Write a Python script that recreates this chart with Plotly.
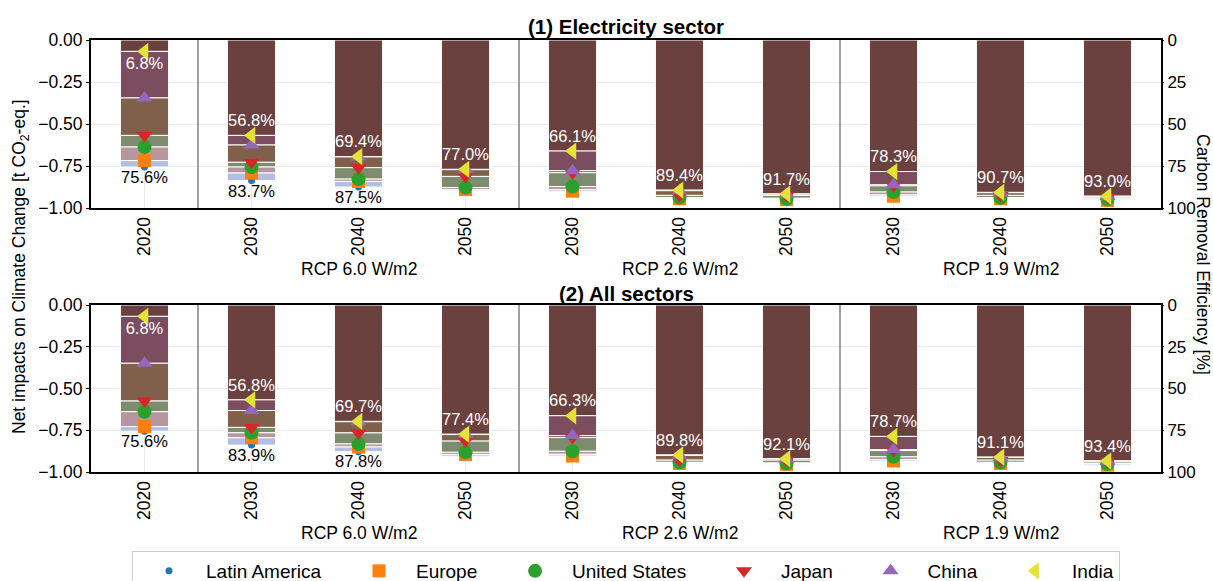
import plotly.graph_objects as go

# ---- categories -------------------------------------------------------------
years = ["2020", "2030", "2040", "2050", "2030", "2040", "2050", "2030", "2040", "2050"]
scenarios = ["RCP 6.0 W/m2", "RCP 2.6 W/m2", "RCP 1.9 W/m2"]
scenario_center = [2, 5, 8]          # category index under which each scenario name sits
group_breaks = [0.5, 3.5, 6.5]       # separators between scenario blocks
regions = ["Latin America", "Europe", "United States", "Japan", "China", "India"]

# ---- (1) Electricity sector: net impacts [t CO2-eq.] per region ----------------
elec_latin_america = [-0.756, -0.837, -0.875, -0.898, -0.890, -0.940, -0.942, -0.922, -0.938, -0.946]
elec_europe        = [-0.718, -0.792, -0.842, -0.890, -0.900, -0.945, -0.950, -0.930, -0.945, -0.955]
elec_united_states = [-0.637, -0.756, -0.828, -0.878, -0.872, -0.938, -0.945, -0.905, -0.940, -0.948]
elec_japan         = [-0.568, -0.728, -0.760, -0.812, -0.790, -0.925, -0.925, -0.868, -0.925, -0.936]
elec_china         = [-0.345, -0.625, -0.696, -0.772, -0.778, -0.897, -0.918, -0.862, -0.909, -0.931]
elec_india         = [-0.068, -0.568, -0.694, -0.770, -0.661, -0.894, -0.917, -0.783, -0.907, -0.930]

# ---- (2) All sectors ------------------------------------------------------------
all_latin_america = [-0.756, -0.839, -0.878, -0.905, -0.894, -0.944, -0.946, -0.926, -0.942, -0.950]
all_europe        = [-0.728, -0.795, -0.850, -0.895, -0.904, -0.949, -0.954, -0.934, -0.949, -0.959]
all_united_states = [-0.639, -0.765, -0.832, -0.882, -0.876, -0.942, -0.949, -0.909, -0.944, -0.952]
all_japan         = [-0.575, -0.733, -0.766, -0.815, -0.794, -0.929, -0.929, -0.872, -0.929, -0.940]
all_china         = [-0.349, -0.632, -0.699, -0.776, -0.782, -0.901, -0.922, -0.866, -0.913, -0.935]
all_india         = [-0.068, -0.568, -0.697, -0.774, -0.663, -0.898, -0.921, -0.787, -0.911, -0.934]

electricity = dict(zip(regions, [elec_latin_america, elec_europe, elec_united_states,
                                 elec_japan, elec_china, elec_india]))
all_sectors = dict(zip(regions, [all_latin_america, all_europe, all_united_states,
                                 all_japan, all_china, all_india]))

# ---- styles -----------------------------------------------------------------------
FONT = "Liberation Sans, Arial, sans-serif"
marker_style = {
    "Latin America": dict(color="#1f77b4", symbol="circle", size=7),
    "Europe":        dict(color="#ff7f0e", symbol="square", size=13),
    "United States": dict(color="#2ca02c", symbol="circle", size=14),
    "Japan":         dict(color="#d62728", symbol="triangle-down", size=14),
    "China":         dict(color="#9467bd", symbol="triangle-up", size=14),
    "India":         dict(color="#e3e336", symbol="triangle-left", size=15),
}
# band colour by how many regional bars overlap (6 -> 1)
band_colors = ["#6a413f", "#7b4d5f", "#80604b", "#7d8b6e", "#b7979d", "#b4bde2"]
LEGEND_PAD = "\u00a0" * 3   # extra room between legend entries

W, H = 1213, 581
x_dom = [91 / W, 1161 / W]
top_dom = [1 - 208 / H, 1 - 40 / H]
bot_dom = [1 - 472 / H, 1 - 305 / H]

X = list(range(len(years)))
fig = go.Figure()
annotations = []


def add_panel(data, xa, ya, ya_right, show_legend):
    # overlapping regional bars shown as bands, darker where more regions overlap
    mags = [sorted(-data[r][i] for r in regions) for i in X]
    for k in range(len(regions)):
        prev = [m[k - 1] if k > 0 else 0.0 for m in mags]
        base = [-p for p in prev]
        length = [-(m[k] - p) for m, p in zip(mags, prev)]
        fig.add_trace(go.Bar(
            x=X, y=length, base=base, width=0.45,
            marker=dict(color=band_colors[k], line=dict(color="white", width=1)),
            xaxis=xa, yaxis=ya, showlegend=False, hoverinfo="skip"))
    for r in regions:
        st = marker_style[r]
        label = r if r == regions[-1] else r + LEGEND_PAD
        fig.add_trace(go.Scatter(
            x=X, y=data[r], mode="markers", name=label, legendgroup=r,
            showlegend=show_legend, xaxis=xa, yaxis=ya,
            marker=dict(color=st["color"], symbol=st["symbol"], size=st["size"],
                        line=dict(width=0))))

    # removal efficiency [%] on the right-hand axis: lowest above, highest below the bar
    eff_lo = [m[0] * 100 for m in mags]
    eff_hi = [m[-1] * 100 for m in mags]
    y_lo = [e + 8 if e < 15 else e - 8 for e in eff_lo]
    fig.add_trace(go.Scatter(
        x=X, y=y_lo, mode="text", text=[f"{e:.1f}%" for e in eff_lo],
        textfont=dict(size=16.5, color="white", family=FONT),
        xaxis=xa, yaxis=ya_right, showlegend=False, hoverinfo="skip"))
    hi_idx = [i for i in X if eff_hi[i] + 7 <= 95]
    fig.add_trace(go.Scatter(
        x=hi_idx, y=[eff_hi[i] + 7 for i in hi_idx], mode="text",
        text=[f"{eff_hi[i]:.1f}%" for i in hi_idx],
        textfont=dict(size=16.5, color="black", family=FONT),
        xaxis=xa, yaxis=ya_right, showlegend=False, hoverinfo="skip"))

    for xc, name in zip(scenario_center, scenarios):
        annotations.append(dict(x=xc, y=-1.0, xref=xa, yref=ya, yshift=-61,
                                text=name, showarrow=False,
                                font=dict(size=17.5, color="black", family=FONT)))


add_panel(electricity, "x", "y", "y2", True)
add_panel(all_sectors, "x2", "y3", "y4", False)

shapes = []
for xa, ya in (("x", "y"), ("x2", "y3")):
    for b in group_breaks:
        shapes.append(dict(type="line", xref=xa, yref=f"{ya} domain", x0=b, x1=b, y0=0, y1=1,
                           line=dict(color="#808080", width=1.5)))

# titles
annotations += [
    dict(x=(x_dom[0] + x_dom[1]) / 2, y=1 - 27 / H, xref="paper", yref="paper",
         xanchor="center", yanchor="middle",
         text="<b>(1) Electricity sector</b>", showarrow=False,
         font=dict(size=20.5, color="black", family=FONT)),
    dict(x=(x_dom[0] + x_dom[1]) / 2, y=1 - 293 / H, xref="paper", yref="paper",
         xanchor="center", yanchor="middle",
         text="<b>(2) All sectors</b>", showarrow=False,
         font=dict(size=20.5, color="black", family=FONT)),
    dict(x=20 / W, y=1 - 267 / H, xref="paper", yref="paper", textangle=-90,
         xanchor="center", yanchor="middle",
         text="Net impacts on Climate Change [t CO<sub>2</sub>-eq.]", showarrow=False,
         font=dict(size=17.5, color="black", family=FONT)),
    dict(x=1203 / W, y=1 - 254 / H, xref="paper", yref="paper", textangle=90,
         xanchor="center", yanchor="middle",
         text="Carbon Removal Efficiency [%]", showarrow=False,
         font=dict(size=17.5, color="black", family=FONT)),
]

tick_font = dict(size=17.5, color="black", family=FONT)
xcommon = dict(range=[-0.5, 9.5], tickvals=X, ticktext=years, tickangle=-90,
               showline=True, mirror=True, linecolor="black", linewidth=2,
               showgrid=True, gridcolor="#ebebeb", gridwidth=1, ticks="",
               tickfont=tick_font, zeroline=False, automargin=False)
yleft = dict(range=[-1, 0], tickvals=[0, -0.25, -0.5, -0.75, -1], tickformat=".2f",
             showline=True, mirror=True, linecolor="black", linewidth=2,
             ticks="outside", ticklen=3, tickcolor="black",
             showgrid=True, gridcolor="#ebebeb", gridwidth=1, zeroline=False,
             tickfont=tick_font, automargin=False)
yright = dict(range=[100, 0], tickvals=[0, 25, 50, 75, 100], side="right",
              showline=True, linecolor="black", linewidth=2, ticks="outside", ticklen=1,
              tickcolor="black", showgrid=False, zeroline=False,
              tickfont=dict(size=17, color="black", family=FONT), automargin=False)

fig.update_layout(
    width=W, height=H, template="none",
    margin=dict(l=0, r=0, t=0, b=0, autoexpand=False),
    paper_bgcolor="white", plot_bgcolor="white",
    font=dict(family=FONT, color="black"),
    barmode="overlay",
    xaxis=dict(domain=x_dom, anchor="y", **xcommon),
    xaxis2=dict(domain=x_dom, anchor="y3", **xcommon),
    yaxis=dict(domain=top_dom, anchor="x", **yleft),
    yaxis2=dict(overlaying="y", anchor="x", **yright),
    yaxis3=dict(domain=bot_dom, anchor="x2", **yleft),
    yaxis4=dict(overlaying="y3", anchor="x2", **yright),
    legend=dict(orientation="h", x=(x_dom[0] + x_dom[1]) / 2, xanchor="center",
                y=1 - 551 / H, yanchor="top", bgcolor="white",
                bordercolor="#cccccc", borderwidth=1, itemwidth=64,
                font=dict(size=19, color="black", family=FONT)),
    annotations=annotations,
    shapes=shapes,
    showlegend=True,
)

fig.write_html("out.html")
